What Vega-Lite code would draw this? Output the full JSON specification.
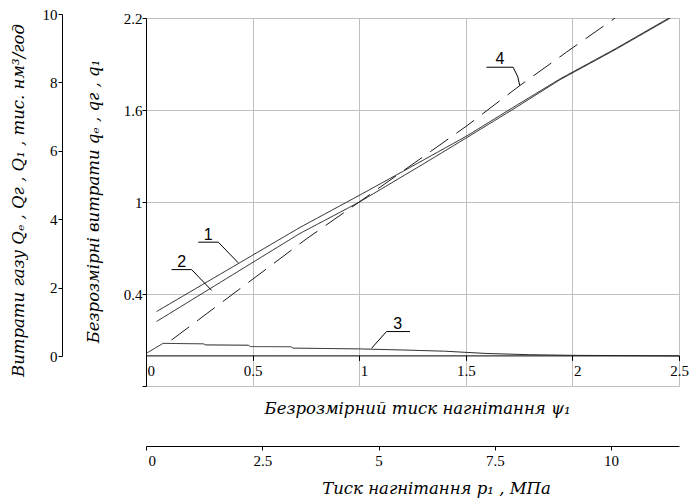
{
  "$schema": "https://vega.github.io/schema/vega-lite/v6.json",
  "width": 533,
  "height": 368,
  "autosize": {"type": "none"},
  "padding": {"left": 146, "top": 18, "right": 13, "bottom": 115},
  "background": "white",
  "config": {
    "view": {"stroke": "#c0c0c0", "strokeWidth": 1},
    "axis": {
      "labelFont": "'Liberation Serif', 'Times New Roman', serif",
      "labelFontSize": 15,
      "labelColor": "#000000",
      "titleFont": "'DejaVu Serif', serif",
      "titleFontStyle": "italic",
      "titleFontWeight": "normal",
      "titleFontSize": 16.5,
      "titleColor": "#000000",
      "domainColor": "#000000",
      "domainWidth": 1,
      "tickColor": "#000000",
      "tickWidth": 1,
      "gridColor": "#c0c0c0",
      "gridOpacity": 1,
      "gridWidth": 1,
      "labelFlush": false,
      "labelOverlap": false
    }
  },
  "datasets": {
    "lines": [
      {"series": "1", "psi": 0.05, "q": 0.286},
      {"series": "1", "psi": 0.722, "q": 0.834},
      {"series": "1", "psi": 1.0, "q": 1.043},
      {"series": "1", "psi": 1.285, "q": 1.261},
      {"series": "1", "psi": 1.505, "q": 1.431},
      {"series": "1", "psi": 1.722, "q": 1.617},
      {"series": "1", "psi": 1.941, "q": 1.802},
      {"series": "1", "psi": 2.2, "q": 1.998},
      {"series": "1", "psi": 2.453, "q": 2.2},
      {"series": "2", "psi": 0.05, "q": 0.221},
      {"series": "2", "psi": 0.722, "q": 0.795},
      {"series": "2", "psi": 1.0, "q": 0.999},
      {"series": "2", "psi": 1.285, "q": 1.235},
      {"series": "2", "psi": 1.505, "q": 1.42},
      {"series": "2", "psi": 1.722, "q": 1.605},
      {"series": "2", "psi": 1.941, "q": 1.797},
      {"series": "2", "psi": 2.2, "q": 1.993},
      {"series": "2", "psi": 2.46, "q": 2.2},
      {"series": "3", "psi": 0.0, "q": 0.012},
      {"series": "3", "psi": 0.08, "q": 0.078},
      {"series": "3", "psi": 0.27, "q": 0.075},
      {"series": "3", "psi": 0.28, "q": 0.068},
      {"series": "3", "psi": 0.48, "q": 0.066},
      {"series": "3", "psi": 0.49, "q": 0.057},
      {"series": "3", "psi": 0.68, "q": 0.056},
      {"series": "3", "psi": 0.69, "q": 0.047},
      {"series": "3", "psi": 1.0, "q": 0.042},
      {"series": "3", "psi": 1.2, "q": 0.035},
      {"series": "3", "psi": 1.4, "q": 0.027},
      {"series": "3", "psi": 1.6, "q": 0.012},
      {"series": "3", "psi": 1.8, "q": 0.004},
      {"series": "3", "psi": 2.0, "q": 0.0},
      {"series": "3", "psi": 2.5, "q": -0.004},
      {"series": "4", "psi": 0.12, "q": 0.1},
      {"series": "4", "psi": 0.753, "q": 0.76},
      {"series": "4", "psi": 1.0, "q": 1.0},
      {"series": "4", "psi": 1.505, "q": 1.497},
      {"series": "4", "psi": 1.753, "q": 1.759},
      {"series": "4", "psi": 1.972, "q": 1.977},
      {"series": "4", "psi": 2.2, "q": 2.2}
    ],
    "leaders": [
      {"id": "1", "psi": 0.245, "q": 0.738},
      {"id": "1", "psi": 0.339, "q": 0.738},
      {"id": "1", "psi": 0.433, "q": 0.603},
      {"id": "2", "psi": 0.12, "q": 0.559},
      {"id": "2", "psi": 0.214, "q": 0.559},
      {"id": "2", "psi": 0.308, "q": 0.423},
      {"id": "3", "psi": 1.058, "q": 0.046},
      {"id": "3", "psi": 1.128, "q": 0.155},
      {"id": "3", "psi": 1.238, "q": 0.155},
      {"id": "4", "psi": 1.597, "q": 1.879},
      {"id": "4", "psi": 1.722, "q": 1.879},
      {"id": "4", "psi": 1.744, "q": 1.816},
      {"id": "4", "psi": 1.753, "q": 1.759}
    ],
    "labels": [
      {"label": "1", "psi": 0.292, "q": 0.752},
      {"label": "2", "psi": 0.167, "q": 0.579},
      {"label": "3", "psi": 1.181, "q": 0.173},
      {"label": "4", "psi": 1.66, "q": 1.897}
    ],
    "qaxis": [{"Q": 0}, {"Q": 10}],
    "paxis": [{"p": 0}, {"p": 11.46}]
  },
  "layer": [
    {
      "layer": [
        {
          "data": {"name": "lines"},
          "mark": {"type": "line", "clip": true},
          "encoding": {
            "x": {
              "field": "psi",
              "type": "quantitative",
              "scale": {"domain": [0, 2.5], "nice": false, "zero": false},
              "axis": {
                "values": [0, 0.5, 1, 1.5, 2, 2.5],
                "offset": -30.6,
                "grid": true,
                "format": ".1~f",
                "tickSize": 5,
                "labelPadding": 3,
                "labelAlign": {"condition": {"test": "datum.value % 1 != 0", "value": "center"}, "value": "left"},
                "labelOffset": {"condition": {"test": "datum.value % 1 != 0", "value": 0}, "value": 1},
                "title": "Безрозмірний тиск нагнітання ψ₁",
                "titleX": 271,
                "titleY": 52.6,
                "titleAlign": "center",
                "titleBaseline": "middle"
              }
            },
            "y": {
              "field": "q",
              "type": "quantitative",
              "scale": {"domain": [-0.2, 2.2], "nice": false, "zero": false},
              "axis": {
                "values": [-0.2, 0.4, 1, 1.6, 2.2],
                "grid": true,
                "labelExpr": "datum.value < 0 ? '' : format(datum.value, '.1~f')",
                "tickSize": 4,
                "labelPadding": 0,
                "title": "Безрозмірні витрати qₑ , qг , q₁",
                "titleX": -53,
                "titleY": 183,
                "titleAngle": -90,
                "titleAlign": "center",
                "titleBaseline": "middle"
              }
            },
            "color": {
              "field": "series",
              "type": "nominal",
              "scale": {"domain": ["1", "2", "3", "4"], "range": ["#1a1a1a", "#1a1a1a", "#222222", "#1a1a1a"]},
              "legend": null
            },
            "strokeDash": {
              "field": "series",
              "type": "nominal",
              "scale": {"domain": ["1", "2", "3", "4"], "range": [[1, 0], [1, 0], [1, 0], [22, 10]]},
              "legend": null
            },
            "strokeWidth": {
              "field": "series",
              "type": "nominal",
              "scale": {"domain": ["1", "2", "3", "4"], "range": [1, 1, 1.6, 1]},
              "legend": null
            }
          }
        },
        {
          "data": {"name": "leaders"},
          "mark": {"type": "line", "color": "#000000", "strokeWidth": 1},
          "encoding": {
            "x": {"field": "psi", "type": "quantitative"},
            "y": {"field": "q", "type": "quantitative"},
            "detail": {"field": "id", "type": "nominal"}
          }
        },
        {
          "data": {"name": "labels"},
          "mark": {"type": "text", "font": "'Liberation Sans', Arial, sans-serif", "fontSize": 16, "baseline": "alphabetic", "align": "center", "color": "#000000"},
          "encoding": {
            "x": {"field": "psi", "type": "quantitative"},
            "y": {"field": "q", "type": "quantitative"},
            "text": {"field": "label", "type": "nominal"}
          }
        }
      ]
    },
    {
      "data": {"name": "qaxis"},
      "mark": {"type": "point", "opacity": 0},
      "encoding": {
        "y": {
          "field": "Q",
          "type": "quantitative",
          "scale": {"domain": [0, 10], "range": [338, -4], "nice": false, "zero": false},
          "axis": {
            "orient": "left",
            "offset": 84,
            "values": [0, 2, 4, 6, 8, 10],
            "format": "d",
            "grid": false,
            "tickSize": 4,
            "labelPadding": 1,
            "title": "Витрати газу Qₑ , Qг , Q₁ , тис. нм³/год",
            "titleX": -44,
            "titleY": 182,
            "titleAngle": -90,
            "titleAlign": "center",
            "titleBaseline": "middle"
          }
        }
      }
    },
    {
      "data": {"name": "paxis"},
      "mark": {"type": "point", "opacity": 0},
      "encoding": {
        "x": {
          "field": "p",
          "type": "quantitative",
          "scale": {"domain": [0, 11.46], "nice": false, "zero": false},
          "axis": {
            "orient": "bottom",
            "offset": 60,
            "values": [0, 2.5, 5, 7.5, 10],
            "format": ".1~f",
            "grid": false,
            "tickSize": 4,
            "labelPadding": 3,
            "labelAlign": {"condition": {"test": "datum.value == 0", "value": "left"}, "value": "center"},
            "labelOffset": {"condition": {"test": "datum.value == 0", "value": 2}, "value": 0},
            "title": "Тиск нагнітання p₁ , МПа",
            "titleX": 290,
            "titleY": 42,
            "titleAlign": "center",
            "titleBaseline": "middle"
          }
        }
      }
    }
  ],
  "resolve": {"scale": {"x": "independent", "y": "independent"}}
}
